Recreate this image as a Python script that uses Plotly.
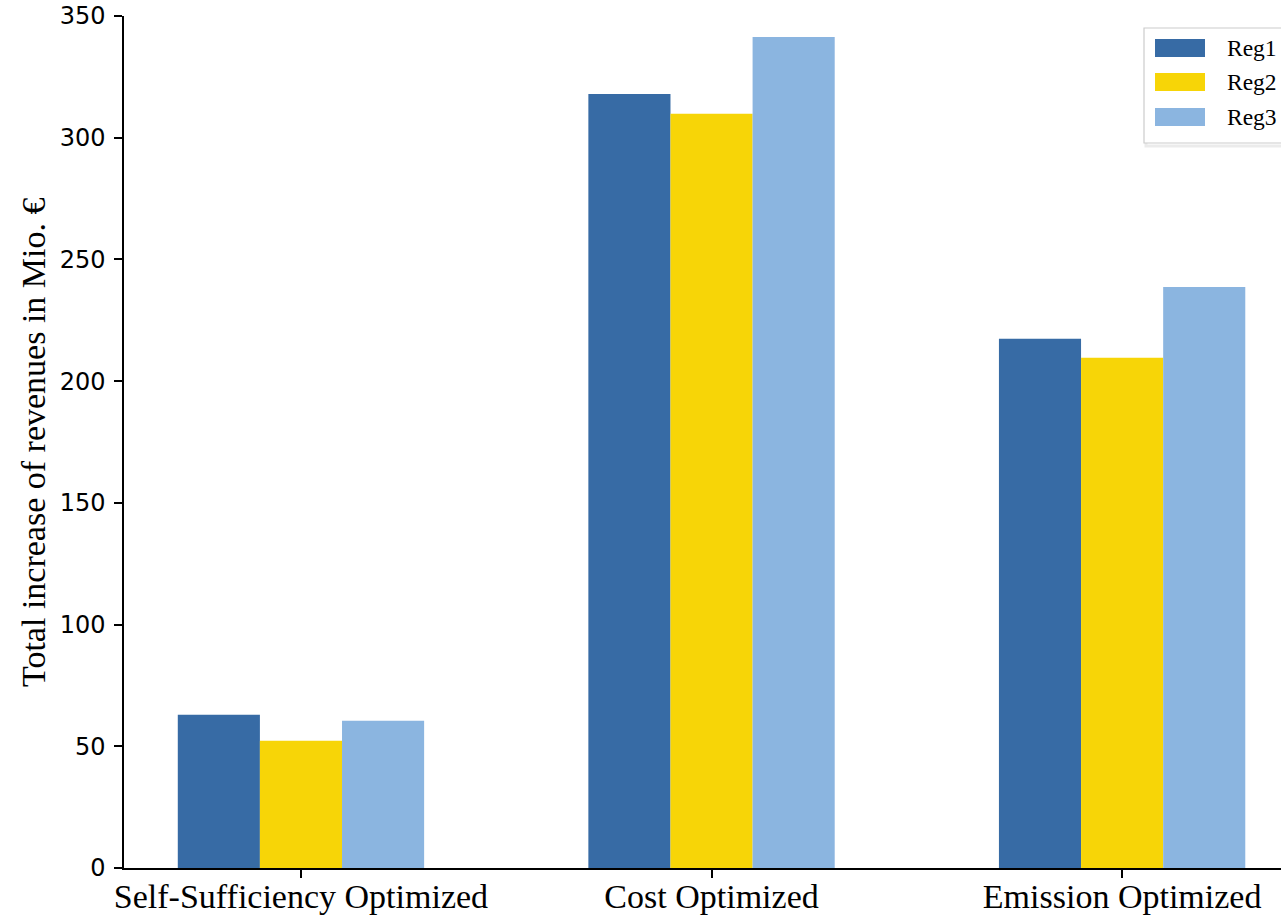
import plotly.graph_objects as go

# Scenario categories and regional revenue increases (Mio. €)
categories = ["Self-Sufficiency Optimized", "Cost Optimized", "Emission Optimized"]
regions = ["Reg1", "Reg2", "Reg3"]
reg1 = [63.0, 318.0, 217.4]
reg2 = [52.3, 309.8, 209.6]
reg3 = [60.5, 341.4, 238.7]
y_ticks = [0, 50, 100, 150, 200, 250, 300, 350]

series = [reg1, reg2, reg3]
colors = ["#376BA5", "#F7D507", "#8BB5E0"]

W, H = 1281, 916
L, R, T, B = 124, 0, 16, 48
pw, ph = W - L - R, H - T - B

fig = go.Figure()
x_pos = list(range(len(categories)))
for name, vals, col in zip(regions, series, colors):
    fig.add_trace(go.Bar(x=x_pos, y=vals, name=name, marker=dict(color=col, line=dict(width=0)),
                         showlegend=False))


def px_x(px):
    return (px - L) / pw


def px_y(py):
    return (H - B - py) / ph


fig.update_layout(
    width=W, height=H,
    margin=dict(l=L, r=R, t=T, b=B),
    plot_bgcolor="white", paper_bgcolor="white",
    barmode="group", bargap=0.4, bargroupgap=0,
    xaxis=dict(
        range=[-0.431, 2.387], tickvals=x_pos, ticktext=categories, automargin=False,
        showline=True, linecolor="black", linewidth=1.5, showgrid=False, zeroline=False,
        ticks="outside", ticklen=8, tickwidth=1.5, tickcolor="black",
        ticklabelstandoff=-11,
        tickfont=dict(family="Liberation Serif", size=34, color="black"),
    ),
    yaxis=dict(
        range=[0, 350], tickvals=y_ticks, automargin=False,
        showline=True, linecolor="black", linewidth=1.5, showgrid=False, zeroline=False,
        ticks="outside", ticklen=8, tickwidth=1.5, tickcolor="black",
        ticklabelstandoff=4,
        tickfont=dict(family="DejaVu Sans", size=24, color="black"),
    ),
    annotations=[dict(
        text="Total increase of revenues in Mio. €", textangle=-90,
        xref="paper", yref="paper", x=px_x(33), y=0.5, xanchor="center", yanchor="middle",
        showarrow=False, font=dict(family="Liberation Serif", size=34, color="black"),
    )],
)

# Legend box with colour patches and labels
fig.add_shape(type="rect", xref="paper", yref="paper",
              x0=px_x(1146), x1=px_x(1290), y0=px_y(146), y1=px_y(31),
              line=dict(color="rgba(0,0,0,0.08)", width=3), fillcolor="rgba(0,0,0,0)", layer="above")
fig.add_shape(type="rect", xref="paper", yref="paper",
              x0=px_x(1144), x1=px_x(1290), y0=px_y(143), y1=px_y(28),
              line=dict(color="#CCCCCC", width=1.2), fillcolor="white", layer="above")
row_y = [48, 82, 117]
for name, col, cy in zip(regions, colors, row_y):
    fig.add_shape(type="rect", xref="paper", yref="paper",
                  x0=px_x(1155), x1=px_x(1205), y0=px_y(cy + 9), y1=px_y(cy - 9),
                  line=dict(width=0), fillcolor=col, layer="above")
    fig.add_annotation(text=name, xref="paper", yref="paper", x=px_x(1225), y=px_y(cy),
                       xanchor="left", yanchor="middle", showarrow=False,
                       font=dict(family="Liberation Serif", size=23.5, color="black"))

fig.write_html("out.html")
